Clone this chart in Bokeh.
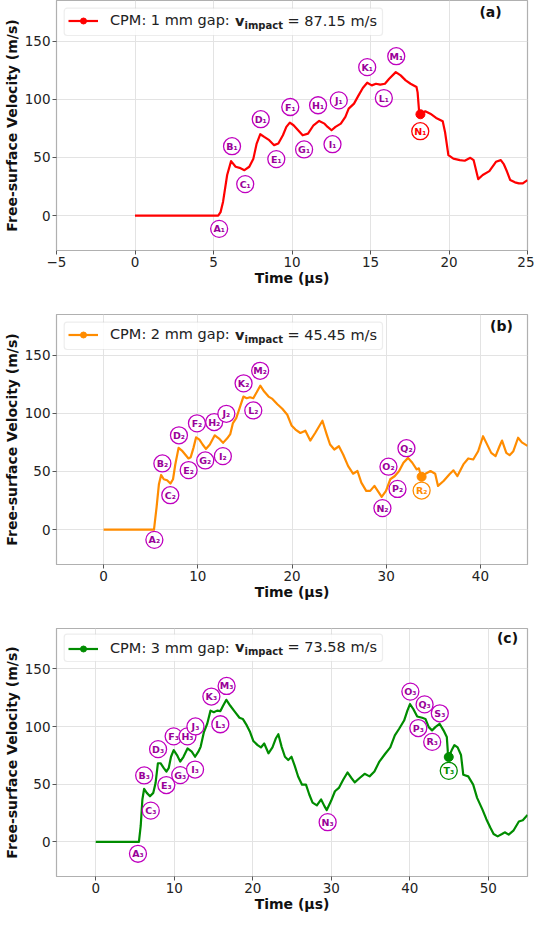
from bokeh.plotting import figure
from bokeh.layouts import column
from bokeh.models import Label, BoxAnnotation, Legend, LegendItem, FixedTicker
from bokeh.core.properties import value
from bokeh.embed import file_html
from bokeh.resources import INLINE

# ---------------- data ----------------
t_a = [0, 5.3, 5.45, 5.61, 5.87, 6.12, 6.41, 6.66, 6.97, 7.28, 7.54, 7.75, 7.98, 8.23, 8.55, 8.86,
       9.13, 9.42, 9.64, 9.86, 10.1, 10.39, 10.68, 11.02, 11.37, 11.73, 12.07, 12.27, 12.52, 12.77,
       13.11, 13.40, 13.61, 13.95, 14.24, 14.51, 14.79, 15.08, 15.35, 15.62, 15.92, 16.19, 16.61,
       16.92, 17.24, 17.55, 17.93, 18.0, 18.09, 18.18, 18.49, 18.81, 19.18, 19.6, 19.75, 19.96,
       20.28, 20.69, 21.0, 21.36, 21.57, 21.86, 22.15, 22.57, 22.99, 23.3, 23.5, 23.7, 23.9, 24.2,
       24.45, 24.7, 25.0]
v_a = [0, 0, 3, 12, 34.9, 46.9, 42, 41.1, 39.1, 42, 49, 62, 70, 67.7, 64.9, 60.6,
       62, 69.1, 76.3, 80, 77.7, 73.4, 69.1, 70.5, 77.7, 81.4, 79.1, 76.3, 73.4, 76.3,
       79.1, 84.9, 92, 96.3, 103.4, 109.7, 114.3, 112, 113.4, 112.6, 113.4, 117.7, 123.4,
       120.6, 116.3, 113.4, 110.6, 106, 90.6, 87.15, 89.7, 87.7, 84, 81.1, 71.7, 52,
       49, 47.7, 47.2, 49.7, 47.7, 31.4, 34.9, 38.3, 46.3, 47.7, 44, 37.7, 30.6, 28.6,
       27.7, 27.7, 30.6]

t_b = [0, 5.35, 5.62, 5.87, 6.11, 6.39, 6.74, 7.09, 7.37, 7.61, 7.96, 8.31, 8.66, 9.01, 9.25,
       9.54, 9.82, 10.17, 10.51, 10.86, 11.28, 11.8, 12.26, 12.68, 13.1, 13.45, 13.73, 14.08,
       14.5, 14.84, 15.19, 15.54, 15.89, 16.25, 16.63, 17.05, 17.51, 17.92, 18.45, 18.97, 19.5,
       19.95, 20.37, 20.89, 21.42, 21.94, 22.46, 23.23, 23.69, 24.04, 24.49, 24.98, 25.43, 25.96,
       26.48, 26.95, 27.36, 27.88, 28.3, 28.75, 29.1, 29.52, 29.98, 30.43, 30.92, 31.37, 31.83,
       32.32, 32.77, 33.23, 33.47, 33.71, 34.17, 34.7, 35.2, 35.5, 36.09, 36.72, 37.14, 37.56,
       38.19, 38.71, 39.24, 39.76, 40.28, 40.63, 41.15, 41.61, 42.03, 42.3, 42.75, 43.1, 43.5,
       44.0, 44.4, 45.0]
v_b = [0, 0, 19, 39, 47, 43.3, 42.4, 39.6, 43.3, 56, 70.3, 68, 64.6, 61.2, 62.3,
       70.3, 79.4, 77.4, 73.2, 69.4, 73.2, 81.1, 78.3, 74.6, 78.3, 82.2, 91.6, 95.9,
       105.9, 114.4, 113, 113.8, 113, 118.1, 123.8, 118.7, 114.4, 112.4, 107.8, 103.9, 98.8,
       89.6, 86, 83.1, 85.1, 76.6, 83.1, 93.6, 81.7, 73.2, 68.9, 71.7, 64.6, 54.6,
       48.1, 50.4, 40.4, 33.3, 33.3, 37.6, 33.3, 28.2, 33.3, 43.3, 46.1, 50.4, 57.5,
       61.7, 57.5, 51.8, 52.7, 45.45, 48.1, 50.4, 48.1, 37.6, 41.8, 47.6, 51, 46.1,
       56.1, 61.2, 60.3, 67.4, 80.3, 74.6, 66, 63.2, 71.7, 76.6, 66, 64, 67.5,
       79, 75, 72]

t_c = [0, 5.5, 5.73, 5.94, 6.16, 6.5, 6.91, 7.33, 7.62, 7.92, 8.25, 8.67, 9.0, 9.29, 9.59, 9.93,
       10.35, 10.76, 11.18, 11.69, 12.23, 12.65, 13.07, 13.36, 13.78, 14.2, 14.62, 15.04, 15.46,
       15.88, 16.22, 16.64, 17.14, 17.68, 18.31, 18.73, 19.24, 19.66, 20.07, 20.62, 21.04, 21.46,
       22.0, 22.51, 22.93, 23.26, 23.68, 24.1, 24.52, 24.94, 25.35, 25.78, 26.28, 26.78, 27.2,
       27.62, 28.17, 28.71, 29.13, 29.43, 29.97, 30.47, 30.97, 31.52, 32.07, 32.57, 32.99, 33.62,
       34.25, 34.88, 35.5, 36.13, 36.85, 37.52, 38.1, 38.65, 39.28, 39.7, 40.03, 40.45, 40.95,
       41.58, 42.0, 42.42, 42.84, 43.26, 43.8, 44.3, 44.72, 44.85, 44.97, 45.35, 45.69, 46.1,
       46.53, 46.82, 47.45, 48.08, 48.58, 49.25, 49.76, 50.26, 50.68, 51.2, 51.75, 52.1, 52.6,
       53.2, 53.9, 54.4, 55.0]
v_c = [0, 0, 14, 36.8, 45.9, 42.5, 39.6, 42.5, 51, 68.2, 68.2, 63.9, 61, 63.9, 73.8, 79.6,
       75.3, 69.6, 73.8, 81, 78.2, 73.8, 78.2, 82.4, 95.2, 102.4, 113.8, 112.4, 113.8,
       113.4, 118, 123.2, 118, 113.2, 107.6, 106.6, 101, 95.2, 87.5, 83.9, 81.9, 85.3,
       76.8, 81.9, 89.6, 93.3, 82.4, 73.8, 71, 73.8, 65.9, 56.7, 49.6, 49.6, 41.1,
       34, 31.6, 36.8, 31, 27.6, 35.4, 43.9, 46.8, 53.9, 60.2, 55.4, 51.6, 55.4,
       59, 56.8, 61, 69.6, 76.2, 81.9, 92.4, 98.1, 105.2, 113.8, 119.5, 115.2, 108.7,
       107.6, 106.6, 99.5, 96.7, 99.5, 102.4, 96.7, 91, 78.2, 73.58, 79.6, 83.9, 81.9,
       75.3, 58.2, 56.8, 49.6, 38.2, 28.2, 19.7, 12.5, 6.8, 4.8, 6.8, 8.3, 6.3,
       9.7, 17.7, 18.8, 23.4]

impact_a = (18.18, 87.15)
impact_b = (33.76, 45.45)
impact_c = (44.97, 73.58)

names_a = ["A₁", "B₁", "C₁", "D₁", "E₁", "F₁", "G₁", "H₁", "I₁", "J₁", "K₁", "L₁", "M₁", "N₁"]
ann_x_a = [5.36, 6.18, 7.02, 8.01, 9.0, 9.89, 10.77, 11.66, 12.58, 12.98, 14.79, 15.85, 16.64, 18.17]
ann_y_a = [-11.4, 59.7, 27.1, 82.9, 48.6, 93.4, 56.9, 94.9, 61.4, 99.1, 127.7, 101.1, 137.1, 72.6]

names_b = ["A₂", "B₂", "C₂", "D₂", "E₂", "F₂", "G₂", "H₂", "I₂", "J₂", "K₂", "L₂", "M₂",
           "N₂", "O₂", "P₂", "Q₂", "R₂"]
ann_x_b = [5.39, 6.24, 7.08, 8.0, 9.03, 9.91, 10.79, 11.74, 12.66, 13.03, 14.86, 15.89, 16.62,
           29.6, 30.24, 31.2, 32.15, 33.76]
ann_y_b = [-8.8, 56.9, 29.6, 81.1, 51.2, 91.4, 59.5, 92.5, 63.2, 99.6, 125.8, 102.5, 136.6,
           18.5, 54.1, 35.0, 70.0, 33.6]

names_c = ["A₃", "B₃", "C₃", "D₃", "E₃", "F₃", "G₃", "H₃", "I₃", "J₃", "K₃", "L₃", "M₃",
           "N₃", "O₃", "P₃", "Q₃", "R₃", "S₃", "T₃"]
ann_x_c = [5.38, 6.17, 7.01, 7.94, 8.99, 9.92, 10.76, 11.68, 12.65, 12.7, 14.73, 15.87, 16.67,
           29.54, 40.08, 41.09, 41.89, 42.86, 43.83, 44.97]
ann_y_c = [-10.3, 57.6, 27.1, 80.4, 49.3, 91.5, 57.9, 91.5, 62.7, 100.1, 126.0, 102.0, 135.2,
           17.1, 130.3, 98.7, 119.2, 86.7, 111.5, 61.6]

gap_labels = ["CPM: 1 mm gap:", "CPM: 2 mm gap:", "CPM: 3 mm gap:"]
impact_texts = ["= 87.15 m/s", "= 45.45 m/s", "= 73.58 m/s"]
panel_letters = ["(a)", "(b)", "(c)"]
x_ticks_a = [-5, 0, 5, 10, 15, 20, 25]
x_ticks_b = [0, 10, 20, 30, 40]
x_ticks_c = [0, 10, 20, 30, 40, 50]
y_ticks = [0, 50, 100, 150]

# ---------------- style ----------------
FONT = "DejaVu Sans"
ANN_EDGE = "#BF00BF"
ANN_TEXT = "#990099"
FH = 250  # frame height (px)


def panel(tt, vv, color, xr, xticks, names, axx, ayy, imp, gap, imp_txt, letter, letter_x,
          height, top, bottom):
    p = figure(width=534, height=height, x_range=xr, y_range=(-30, 185),
               output_backend="svg", toolbar_location=None,
               min_border_left=50, min_border_right=7,
               min_border_top=top, min_border_bottom=bottom)
    p.background_fill_color = "white"
    p.border_fill_color = "white"
    p.outline_line_color = "#b0b0b0"
    p.outline_line_width = 1.2

    for ax in (p.xaxis, p.yaxis):
        ax.axis_line_color = "#b0b0b0"
        ax.major_tick_line_color = "#555555"
        ax.major_tick_out = 4
        ax.major_tick_in = 0
        ax.minor_tick_line_color = None
        ax.major_label_text_font = FONT
        ax.major_label_text_font_size = "13.5px"
        ax.major_label_text_color = "#222222"
        ax.major_label_standoff = 2
        ax.axis_label_text_font = FONT
        ax.axis_label_text_font_size = "14px"
        ax.axis_label_text_font_style = "bold"
        ax.axis_label_text_color = "#111111"
    p.xaxis.ticker = FixedTicker(ticks=xticks)
    p.yaxis.ticker = FixedTicker(ticks=y_ticks)
    p.xaxis.axis_label = "Time (µs)"
    p.yaxis.axis_label = "Free-surface Velocity (m/s)"
    p.xaxis.axis_label_standoff = 0
    p.yaxis.axis_label_standoff = 2
    p.grid.grid_line_color = "#e3e3e3"
    p.grid.grid_line_width = 1

    line_r = p.line(tt, vv, line_color=color, line_width=2.2, line_join="round")
    mark_r = p.scatter([imp[0]], [imp[1]], size=9, fill_color=color, line_color=color)

    edge = [ANN_EDGE] * (len(names) - 1) + [color]
    tcol = [ANN_TEXT] * (len(names) - 1) + [color]
    p.scatter(axx, ayy, size=17, fill_color="white", line_color=edge, line_width=1.3)
    p.text(axx, ayy, text=names, text_align="center", text_baseline="middle",
           text_font=value(FONT), text_font_style="bold", text_font_size="9.5px",
           text_color=tcol)

    # legend frame
    p.add_layout(BoxAnnotation(left=7.7, right=326, top=FH - 7.7, bottom=FH - 35,
                               left_units="screen", right_units="screen",
                               top_units="screen", bottom_units="screen",
                               fill_color="white", fill_alpha=0.85,
                               line_color="#c4c4c4", line_width=1.2,
                               border_radius=3))
    leg = Legend(items=[LegendItem(label=gap, renderers=[line_r, mark_r])],
                 location="top_left", margin=7, padding=5,
                 glyph_width=30, glyph_height=15, label_standoff=12,
                 label_text_font=FONT, label_text_font_size="14.5px",
                 label_text_color="#222222",
                 border_line_alpha=0, background_fill_alpha=0)
    p.add_layout(leg)
    yc = FH - 20.5
    p.add_layout(Label(x=178.5, y=yc, x_units="screen", y_units="screen", text="v",
                       text_font=FONT, text_font_style="bold", text_font_size="14.5px",
                       text_baseline="middle", text_color="#222222"))
    p.add_layout(Label(x=188, y=yc - 4, x_units="screen", y_units="screen", text="impact",
                       text_font=FONT, text_font_style="bold", text_font_size="10px",
                       text_baseline="middle", text_color="#222222"))
    p.add_layout(Label(x=231, y=yc, x_units="screen", y_units="screen", text=imp_txt,
                       text_font=FONT, text_font_size="14.5px",
                       text_baseline="middle", text_color="#222222"))
    p.add_layout(Label(x=letter_x, y=FH - 11, x_units="screen", y_units="screen", text=letter,
                       text_font=FONT, text_font_style="bold", text_font_size="14px",
                       text_align="center", text_baseline="middle", text_color="#111111"))
    return p


p1 = panel(t_a, v_a, "#ff0000", (-5, 25), x_ticks_a, names_a, ann_x_a, ann_y_a, impact_a,
           gap_labels[0], impact_texts[0], panel_letters[0], 434, 306, 0, 56)
p2 = panel(t_b, v_b, "#ff8c00", (-5, 45), x_ticks_b, names_b, ann_x_b, ann_y_b, impact_b,
           gap_labels[1], impact_texts[1], panel_letters[1], 445, 314, 8, 56)
p3 = panel(t_c, v_c, "#008c00", (-5, 55), x_ticks_c, names_c, ann_x_c, ann_y_c, impact_c,
           gap_labels[2], impact_texts[2], panel_letters[2], 451, 294, 8, 36)

layout = column(p1, p2, p3)
open("out.html", "w").write(file_html(layout, INLINE))
